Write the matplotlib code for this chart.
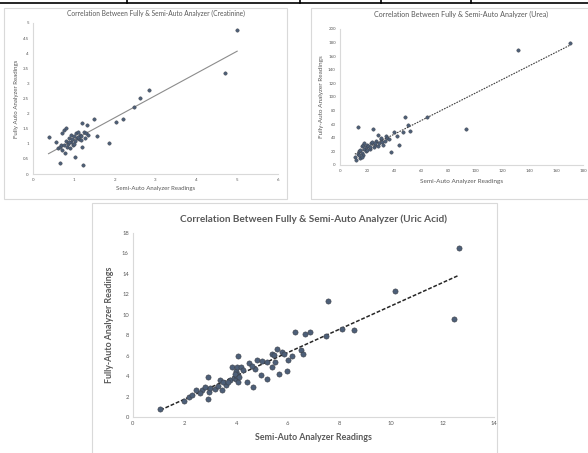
import numpy as np
import matplotlib
matplotlib.use("Agg")
import matplotlib.pyplot as plt
from matplotlib.patches import Rectangle
from matplotlib.lines import Line2D

plt.rcParams['font.family'] = ['Lato', 'DejaVu Sans']

# creatinine
cr_semi = [0.38, 0.57, 0.6, 0.65, 0.67, 0.68, 0.7, 0.72, 0.75, 0.76, 0.78, 0.8, 0.82, 0.84, 0.85,
           0.88, 0.9, 0.92, 0.93, 0.95, 0.97, 1.0, 1.02, 1.04, 1.05, 1.08, 1.1, 1.12, 1.15, 1.17,
           1.2, 1.21, 1.22, 1.25, 1.28, 1.3, 1.32, 1.35, 1.49, 1.57, 1.85, 2.03, 2.2, 2.48, 2.62,
           2.85, 4.7, 5.0, 0.87, 1.0, 1.1, 1.18]
cr_fully = [1.23, 1.07, 0.85, 0.9, 0.37, 0.95, 0.8, 1.36, 0.95, 1.47, 0.7, 1.1, 1.52, 0.9, 1.0,
            1.2, 0.85, 1.3, 1.05, 1.15, 0.95, 1.25, 1.1, 0.57, 1.35, 1.2, 1.4, 1.15, 1.3, 1.25,
            1.68, 0.9, 0.29, 1.4, 1.2, 1.35, 1.62, 1.3, 1.81, 1.26, 1.03, 1.71, 1.81, 2.23, 2.51,
            2.79, 3.34, 4.77, 1.05, 0.98, 1.22, 1.12]

# urea
urea_semi = [11, 12, 13, 13.6, 14, 15, 15, 16, 16, 17, 17, 18, 18, 19, 19, 20, 20, 21, 22, 23,
             24, 24.7, 25, 26, 27, 28, 28, 29, 30, 31, 32, 33, 34, 35, 36, 37.7, 40, 42, 44, 47,
             48, 50.5, 52, 64.6, 93, 132, 170, 14, 16, 22, 26, 30]
urea_fully = [12, 8, 16, 56.5, 20, 10, 22, 18, 28, 14, 30, 24, 32, 20, 26, 22, 30, 28, 24, 32,
              34, 53, 26, 30, 36, 44, 28, 32, 38, 34, 30, 36, 42, 40, 38, 18.7, 48, 42, 29.5, 49,
              71, 59, 50, 70, 53, 168.5, 179, 14, 12, 26, 32, 40]

# uric acid
uric_semi = [1.06, 1.96, 2.19, 2.45, 2.67, 2.89, 2.89, 2.93, 3.0, 3.19, 3.39, 3.44, 3.61, 3.77,
             3.83, 3.9, 4.0, 4.0, 4.03, 4.03, 4.05, 4.09, 4.09, 4.18, 4.41, 4.49, 4.67, 4.74, 4.8,
             4.95, 5.19, 5.38, 5.38, 5.51, 5.57, 5.67, 5.77, 5.86, 5.97, 6.03, 6.15, 6.28, 6.5,
             6.6, 6.67, 6.86, 7.48, 7.57, 8.12, 8.57, 10.15, 12.45, 12.63,
             2.3, 2.8, 3.3, 3.5, 3.95, 4.1, 4.25, 4.6, 5.0, 5.2, 5.45, 3.7, 2.6]
uric_fully = [0.82, 1.53, 1.96, 2.67, 2.67, 3.91, 1.79, 2.45, 2.8, 2.77, 3.59, 2.61, 3.1, 3.59,
              4.89, 3.8, 3.75, 4.5, 4.89, 4.24, 4.0, 5.93, 3.42, 4.89, 3.42, 5.31, 2.93, 4.73, 5.54,
              4.08, 3.75, 6.2, 4.89, 5.38, 6.68, 4.17, 6.36, 6.2, 4.5, 5.54, 5.93, 8.31, 6.59,
              6.13, 8.15, 8.31, 7.89, 11.31, 8.64, 8.48, 12.29, 9.55, 16.53,
              2.2, 2.9, 3.0, 3.4, 4.2, 3.9, 4.6, 5.0, 5.5, 5.4, 6.1, 3.4, 2.3]

W, H = 588, 453
fig = plt.figure(figsize=(W / 100, H / 100), dpi=100)
fig.patch.set_facecolor('white')

def fx(px):
    return px / W

def fy(py):
    return 1 - py / H

# table remnants at the top
fig.add_artist(Line2D([0, 1], [fy(3), fy(3)], color='black', lw=1.2))
for vx in [127, 300, 381, 471]:
    fig.add_artist(Line2D([fx(vx), fx(vx)], [fy(0), fy(3)], color='black', lw=1.2))

# chart frames
for x0, y0, x1, y1 in [(4, 8, 287, 199), (311, 8, 590, 199), (92, 203, 497, 455)]:
    fig.add_artist(Rectangle((fx(x0), fy(y1)), fx(x1 - x0), (y1 - y0) / H,
                             fill=False, edgecolor='#d9d9d9', lw=0.8))

gray = '#595959'
pt_face = '#4d5f78'
pt_edge = '#3b3f47'

def style(ax, fs):
    for s in ['top', 'right']:
        ax.spines[s].set_visible(False)
    for s in ['left', 'bottom']:
        ax.spines[s].set_color('#d9d9d9')
        ax.spines[s].set_linewidth(0.8)
    ax.tick_params(length=0, labelsize=fs, labelcolor=gray, pad=3)

def trend(ax, x, y, **kw):
    m, b = np.polyfit(x, y, 1)
    xs = np.array([min(x), max(x)])
    ax.plot(xs, m * xs + b, **kw)

# creatinine
ax1 = fig.add_axes([fx(33), fy(174), fx(278 - 33), (174 - 23) / H])
ax1.scatter(cr_semi, cr_fully, s=6, color=pt_face, edgecolor=pt_edge, lw=0.3, zorder=3)
trend(ax1, cr_semi, cr_fully, color='#8c8c8c', lw=0.8)
ax1.set_xlim(0, 6)
ax1.set_ylim(0, 5)
ax1.set_xticks(range(0, 7))
ax1.set_yticks(np.arange(0, 5.01, 0.5))
ax1.set_yticklabels(['0', '0.5', '1', '1.5', '2', '2.5', '3', '3.5', '4', '4.5', '5'])
style(ax1, 3.2)
ax1.set_title('Correlation Between Fully & Semi-Auto Analyzer (Creatinine)',
              fontsize=4.8, color=gray, pad=5)
ax1.set_xlabel('Semi-Auto Analyzer Readings', fontsize=4.4, color=gray, labelpad=3)
ax1.set_ylabel('Fully Auto Analyzer Readings', fontsize=4.4, color=gray, labelpad=3)

# urea
ax2 = fig.add_axes([fx(340), fy(165), fx(583 - 340), (165 - 29) / H])
ax2.scatter(urea_semi, urea_fully, s=6, color=pt_face, edgecolor=pt_edge, lw=0.3, zorder=3)
trend(ax2, urea_semi, urea_fully, color='#404040', lw=0.8, ls=(0, (1.5, 1)))
ax2.set_xlim(0, 180)
ax2.set_ylim(0, 200)
ax2.set_xticks(range(0, 181, 20))
ax2.set_yticks(range(0, 201, 20))
style(ax2, 3.2)
ax2.set_title('Correlation Between Fully & Semi-Auto Analyzer (Urea)',
              fontsize=5.1, color=gray, pad=9)
ax2.set_xlabel('Semi-Auto Analyzer Readings', fontsize=4.6, color=gray, labelpad=4)
ax2.set_ylabel('Fully-Auto Analyzer Readings', fontsize=4.6, color=gray, labelpad=3)

# uric acid
ax3 = fig.add_axes([fx(133), fy(417), fx(494 - 133), (417 - 233) / H])
ax3.scatter(uric_semi, uric_fully, s=14, color=pt_face, edgecolor=pt_edge, lw=0.4, zorder=3)
trend(ax3, uric_semi, uric_fully, color='#262626', lw=1.1, ls=(0, (2.5, 1.2)))
ax3.set_xlim(0, 14)
ax3.set_ylim(0, 18)
ax3.set_xticks(range(0, 15, 2))
ax3.set_yticks(range(0, 19, 2))
style(ax3, 4.2)
ax3.set_title('Correlation Between Fully & Semi-Auto Analyzer (Uric Acid)',
              fontsize=7.2, color=gray, fontweight='bold', pad=8)
ax3.set_xlabel('Semi-Auto Analyzer Readings', fontsize=6.4, color=gray,
               fontweight='bold', labelpad=5)
ax3.set_ylabel('Fully-Auto Analyzer Readings', fontsize=6.4, color=gray,
               fontweight='bold', labelpad=6)

fig.savefig('out.png', dpi=100)
